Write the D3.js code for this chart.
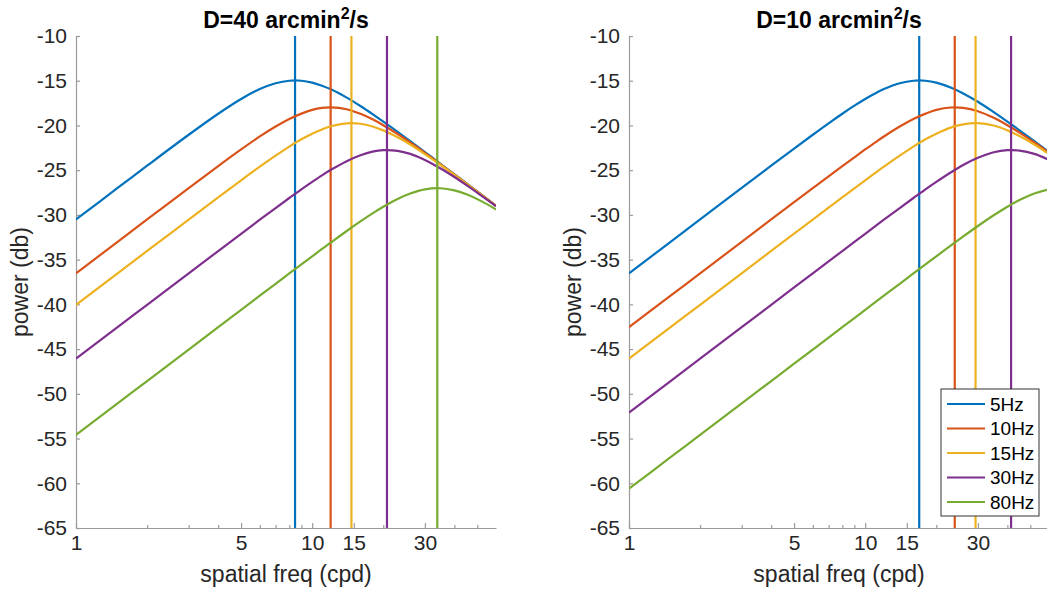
<!DOCTYPE html>
<html>
<head>
<meta charset="utf-8">
<script src="https://cdn.jsdelivr.net/npm/d3@7"></script>
<style>
body { margin: 0; background: #fff; }
svg { display: block; font-family: "Liberation Sans", Arial, sans-serif; }
</style>
</head>
<body>
<div id="chart-area"></div>
<script>
var spatialFreq = [1, 1.5, 2, 3, 4, 5, 6, 7, 8, 9, 10, 11, 12, 14, 16, 18, 20, 23, 26, 30, 35, 40, 45, 52, 60];

var labels = ['5Hz', '10Hz', '15Hz', '30Hz', '80Hz'];

// D=40 panel, power (db)
var d40_5hz  = [-30.51, -26.99, -24.50, -21.04, -18.69, -17.04, -15.93, -15.28, -15.00, -15.00, -15.21, -15.56, -15.96, -16.89, -17.83, -18.73, -19.57, -20.72, -21.76, -22.98, -24.31, -25.46, -26.48, -27.73, -28.98];
var d40_10hz = [-36.53, -33.01, -30.51, -27.00, -24.54, -22.68, -21.23, -20.12, -19.28, -18.68, -18.26, -18.04, -17.98, -18.19, -18.70, -19.31, -19.97, -20.96, -21.90, -23.06, -24.35, -25.49, -26.50, -27.74, -28.98];
var d40_15hz = [-40.05, -36.53, -34.03, -30.52, -28.03, -26.13, -24.61, -23.38, -22.37, -21.55, -20.92, -20.45, -20.09, -19.76, -19.81, -20.11, -20.55, -21.31, -22.13, -23.20, -24.42, -25.53, -26.52, -27.76, -28.99];
var d40_30hz = [-46.07, -42.55, -40.05, -36.53, -34.04, -32.11, -30.54, -29.23, -28.11, -27.14, -26.31, -25.58, -24.96, -23.99, -23.33, -22.92, -22.76, -22.84, -23.18, -23.85, -24.81, -25.76, -26.67, -27.84, -29.03];
var d40_80hz = [-54.59, -51.07, -48.57, -45.05, -42.55, -40.61, -39.03, -37.70, -36.54, -35.53, -34.63, -33.81, -33.08, -31.80, -30.73, -29.83, -29.08, -28.21, -27.61, -27.14, -27.02, -27.25, -27.70, -28.46, -29.39];
var peaks40  = [8.46, 11.97, 14.66, 20.73, 33.85];

// D=10 panel, power (db)
var d10_5hz  = [-36.53, -33.01, -30.51, -26.99, -24.50, -22.59, -21.04, -19.76, -18.69, -17.79, -17.04, -16.43, -15.93, -15.28, -15.00, -15.00, -15.21, -15.76, -16.42, -17.35, -18.51, -19.57, -20.54, -21.76, -22.98];
var d10_10hz = [-42.55, -39.03, -36.53, -33.01, -30.51, -28.58, -27.00, -25.68, -24.54, -23.56, -22.68, -21.92, -21.23, -20.12, -19.28, -18.68, -18.26, -17.99, -18.04, -18.41, -19.14, -19.97, -20.80, -21.90, -23.06];
var d10_15hz = [-46.07, -42.55, -40.05, -36.53, -34.03, -32.10, -30.52, -29.18, -28.03, -27.03, -26.13, -25.33, -24.61, -23.38, -22.37, -21.55, -20.92, -20.24, -19.87, -19.75, -20.01, -20.55, -21.18, -22.13, -23.20];
var d10_30hz = [-52.09, -48.57, -46.07, -42.55, -40.05, -38.11, -36.53, -35.19, -34.04, -33.02, -32.11, -31.29, -30.54, -29.23, -28.11, -27.14, -26.31, -25.26, -24.42, -23.62, -23.00, -22.76, -22.81, -23.18, -23.85];
var d10_80hz = [-60.61, -57.09, -54.59, -51.07, -48.57, -46.63, -45.05, -43.71, -42.55, -41.53, -40.61, -39.79, -39.03, -37.70, -36.54, -35.53, -34.63, -33.44, -32.41, -31.24, -30.04, -29.08, -28.34, -27.61, -27.14];
var peaks10  = [16.93, 23.94, 29.32, 41.46, 67.7];

var xTicks = [1, 5, 10, 15, 30];
var xMinor = [2, 3, 4, 6, 7, 8, 9, 20, 40, 50];
var yTicks = [-65, -60, -55, -50, -45, -40, -35, -30, -25, -20, -15, -10];

var colors = ['#0072BD', '#D95319', '#EDB120', '#7E2F8E', '#77AC30'];
var axisColor = '#9a9a9a';
var textColor = '#262626';

var svg = d3.select('#chart-area').append('svg')
    .attr('width', 1047)
    .attr('height', 594);

var y = d3.scaleLinear().domain([-65, -10]).range([528, 36]);

drawPanel(76, 'D=40', [d40_5hz, d40_10hz, d40_15hz, d40_30hz, d40_80hz], peaks40, 'clipA');
drawPanel(629, 'D=10', [d10_5hz, d10_10hz, d10_15hz, d10_30hz, d10_80hz], peaks10, 'clipB');
drawLegend(941, 389);

function drawPanel(left, name, series, peaks, clipId) {
	var width = 420;
	var x = d3.scaleLog().domain([1, 60]).range([left, left + width]);
	var g = svg.append('g');

	g.append('clipPath').attr('id', clipId)
		.append('rect')
		.attr('x', left).attr('y', y(-10))
		.attr('width', width).attr('height', y(-65) - y(-10));

	// axes, ticks pointing inwards like matlab
	var xAxis = g.append('g').attr('transform', `translate(0, ${y(-65)})`)
		.call(d3.axisBottom(x).tickValues(xTicks).tickFormat(d => String(d))
			.tickSizeInner(-5).tickSizeOuter(0).tickPadding(7));
	var xMinorAxis = g.append('g').attr('transform', `translate(0, ${y(-65)})`)
		.call(d3.axisBottom(x).tickValues(xMinor).tickFormat('')
			.tickSizeInner(-3).tickSizeOuter(0));
	xMinorAxis.select('.domain').remove();

	var yAxis = g.append('g').attr('transform', `translate(${left}, 0)`)
		.call(d3.axisLeft(y).tickValues(yTicks).tickFormat(d => String(d))
			.tickSizeInner(-4).tickSizeOuter(0).tickPadding(9));

	[xAxis, xMinorAxis, yAxis].forEach(a => {
		a.attr('font-family', null).attr('font-size', null);
		a.selectAll('.domain').attr('stroke', axisColor).attr('stroke-width', 1.2);
		a.selectAll('.tick line').attr('stroke', axisColor).attr('stroke-width', 1.2);
		a.selectAll('text').attr('fill', textColor).attr('font-size', '21px');
	});
	yAxis.selectAll('text').attr('x', -9);

	// curves, each followed by its peak line
	var line = d3.line()
		.x((d, i) => x(spatialFreq[i]))
		.y(d => y(d))
		.curve(d3.curveCatmullRom);

	var plot = g.append('g').attr('clip-path', `url(#${clipId})`);
	series.forEach((s, i) => {
		plot.append('path')
			.attr('d', line(s))
			.attr('fill', 'none')
			.attr('stroke', colors[i])
			.attr('stroke-width', 2.2);
		plot.append('line')
			.attr('x1', x(peaks[i])).attr('x2', x(peaks[i]))
			.attr('y1', y(-10)).attr('y2', y(-65))
			.attr('stroke', colors[i])
			.attr('stroke-width', 2.2);
	});

	// title
	var cx = left + width / 2;
	var title = g.append('text')
		.attr('x', cx)
		.attr('y', 28)
		.attr('text-anchor', 'middle')
		.attr('font-weight', 'bold')
		.attr('font-size', '23px')
		.attr('fill', '#000');
	title.append('tspan').text(name + ' arcmin');
	title.append('tspan').attr('font-size', '16px').attr('dy', -9).text('2');
	title.append('tspan').attr('dy', 9).text('/s');

	// axis labels
	g.append('text')
		.attr('x', cx)
		.attr('y', 582)
		.attr('text-anchor', 'middle')
		.attr('font-size', '23px')
		.attr('fill', textColor)
		.text('spatial freq (cpd)');

	g.append('text')
		.attr('transform', `translate(${left - 48}, ${(y(-10) + y(-65)) / 2}) rotate(-90)`)
		.attr('text-anchor', 'middle')
		.attr('font-size', '23px')
		.attr('fill', textColor)
		.text('power (db)');
}

function drawLegend(lx, ly) {
	var lg = svg.append('g').attr('transform', `translate(${lx}, ${ly})`);
	lg.append('rect')
		.attr('width', 98).attr('height', 127)
		.attr('fill', '#fff')
		.attr('stroke', '#333')
		.attr('stroke-width', 1);

	var rows = lg.selectAll('.row').data(labels).enter()
		.append('g')
		.attr('class', 'row')
		.attr('transform', (d, i) => `translate(0, ${15 + i * 24.5})`);

	rows.append('line')
		.attr('x1', 6).attr('x2', 44)
		.attr('stroke', (d, i) => colors[i])
		.attr('stroke-width', 2.2);

	rows.append('text')
		.attr('x', 49)
		.attr('dy', '0.36em')
		.attr('font-size', '19px')
		.attr('fill', '#000')
		.text(d => d);
}
</script>
</body>
</html>
